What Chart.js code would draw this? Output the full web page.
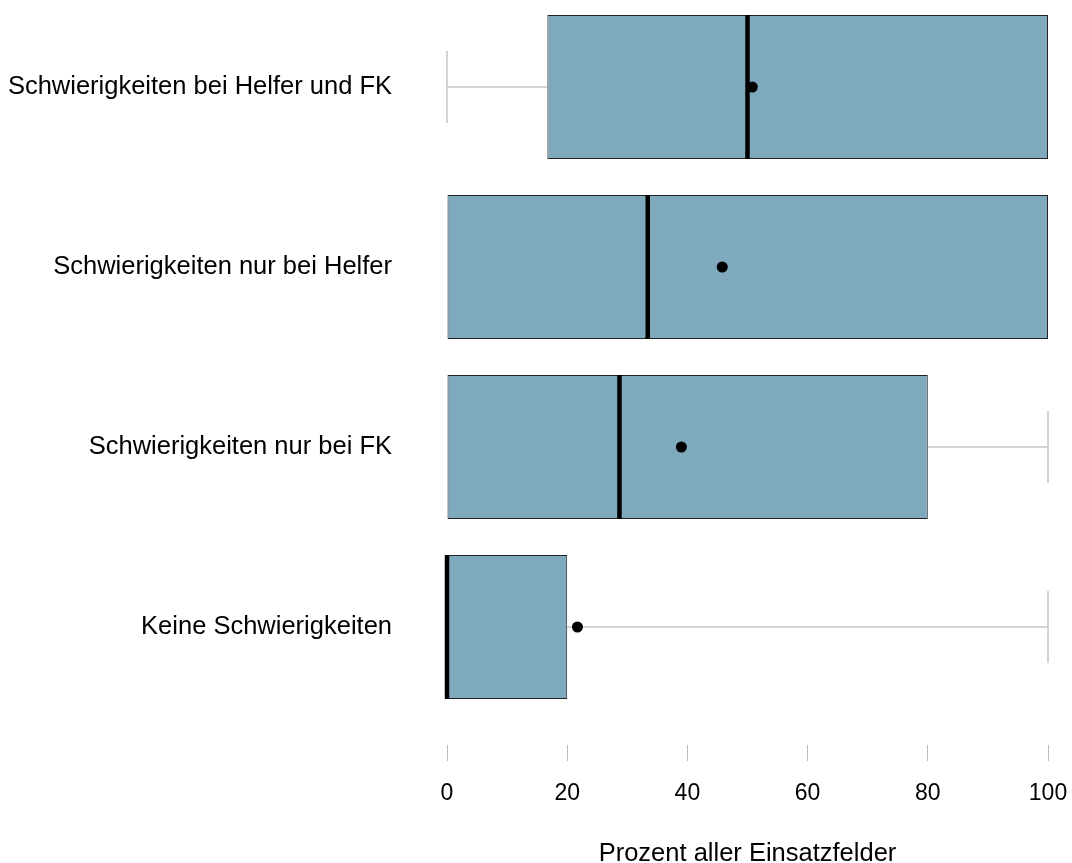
<!DOCTYPE html>
<html>
<head>
<meta charset="utf-8">
<script src="https://cdn.jsdelivr.net/npm/chart.js@4"></script>
<style>
  body { margin: 0; background: #fff; overflow: hidden; }
  #wrap { position: relative; top: -3px; width: 1072px; height: 872px; }
</style>
</head>
<body>
<div id="wrap"><canvas id="boxChart"></canvas></div>
<script>
// Boxplot values (percent)
var categories = [
    'Schwierigkeiten bei Helfer und FK',
    'Schwierigkeiten nur bei Helfer',
    'Schwierigkeiten nur bei FK',
    'Keine Schwierigkeiten'
];
var whiskerLow = [0, 0, 0, 0];
var q1 = [16.7, 0, 0, 0];
var medians = [50, 33.4, 28.7, 0];
var q3 = [100, 100, 80, 20];
var whiskerHigh = [100, 100, 100, 100];
var means = [50.8, 45.8, 39, 21.7];
var xTicks = [0, 20, 40, 60, 80, 100];

var FONT = "'Liberation Sans', Arial, sans-serif";
var WHISKER = '#c4c4c4';

var datasets = [];

// boxes (q1..q3)
datasets.push({
    type: 'bar',
    label: 'box',
    data: categories.map(function(c, i) { return [q1[i], q3[i]]; }),
    backgroundColor: '#7FA9BD',
    borderColor: '#222222',
    borderWidth: 1,
    borderSkipped: false,
    barPercentage: 0.8,
    categoryPercentage: 1,
    clip: false,
    order: 2
});

// whiskers + caps
var caps = [];
categories.forEach(function(c, i) {
    if (whiskerLow[i] < q1[i]) {
        datasets.push({
            type: 'scatter', showLine: true, clip: false,
            data: [{ x: whiskerLow[i], y: c }, { x: q1[i], y: c }],
            borderColor: WHISKER, borderWidth: 1.5, pointRadius: 0, order: 3
        });
        caps.push({ x: whiskerLow[i], y: c });
    }
    if (whiskerHigh[i] > q3[i]) {
        datasets.push({
            type: 'scatter', showLine: true, clip: false,
            data: [{ x: q3[i], y: c }, { x: whiskerHigh[i], y: c }],
            borderColor: WHISKER, borderWidth: 1.5, pointRadius: 0, order: 3
        });
        caps.push({ x: whiskerHigh[i], y: c });
    }
});
datasets.push({
    type: 'scatter',
    data: caps,
    pointStyle: 'line',
    rotation: 90,
    radius: 36,
    borderColor: WHISKER,
    borderWidth: 1.5,
    clip: false,
    order: 3
});

// medians
datasets.push({
    type: 'scatter',
    data: categories.map(function(c, i) { return { x: medians[i], y: c }; }),
    pointStyle: 'line',
    rotation: 90,
    radius: 72,
    borderColor: '#000',
    borderWidth: 4.5,
    clip: false,
    order: 1
});

// means
datasets.push({
    type: 'scatter',
    data: categories.map(function(c, i) { return { x: means[i], y: c }; }),
    pointStyle: 'circle',
    radius: 5.5,
    backgroundColor: '#000',
    borderColor: '#000',
    borderWidth: 0,
    clip: false,
    order: 0
});

new Chart(document.getElementById('boxChart').getContext('2d'), {
    type: 'bar',
    data: { labels: categories, datasets: datasets },
    options: {
        indexAxis: 'y',
        responsive: true,
        maintainAspectRatio: false,
        animation: false,
        layout: { autoPadding: false, padding: { left: 0, right: 24, top: 0, bottom: 0 } },
        plugins: {
            legend: { display: false },
            tooltip: { enabled: false }
        },
        scales: {
            x: {
                type: 'linear',
                position: 'bottom',
                min: 0,
                max: 100,
                afterBuildTicks: function(scale) {
                    scale.ticks = xTicks.map(function(v) { return { value: v }; });
                },
                afterFit: function(scale) {
                    scale.height = 152;
                    scale.paddingLeft = 0;
                    scale.paddingRight = 0;
                },
                grid: {
                    drawOnChartArea: false,
                    tickLength: 44,
                    tickColor: '#bdbdbd',
                    tickWidth: 1,
                    tickBorderDash: [0, 28, 16, 200]
                },
                border: { display: false },
                ticks: {
                    padding: 19,
                    color: '#000',
                    font: { size: 23, family: FONT }
                },
                title: {
                    display: true,
                    text: 'Prozent aller Einsatzfelder',
                    color: '#000',
                    font: { size: 25.5, family: FONT },
                    padding: { top: 0, bottom: 0 }
                }
            },
            y: {
                type: 'category',
                labels: categories,
                offset: true,
                afterFit: function(scale) {
                    scale.width = 447;
                    scale.paddingTop = 0;
                    scale.paddingBottom = 0;
                },
                grid: { display: false, drawTicks: false },
                border: { display: false },
                ticks: {
                    padding: 55,
                    color: '#000',
                    font: { size: 25.5, family: FONT }
                }
            }
        }
    }
});
</script>
</body>
</html>
